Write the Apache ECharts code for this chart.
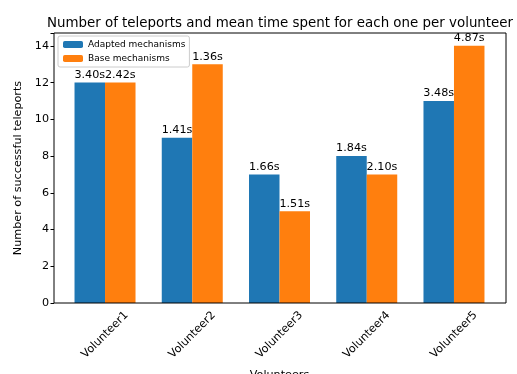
<!DOCTYPE html>
<html>
<head>
<meta charset="utf-8">
<script src="https://cdn.jsdelivr.net/npm/echarts@6/dist/echarts.min.js"></script>
<style>
  html, body { margin: 0; padding: 0; background: #fff; }
  #chart { width: 517px; height: 374px; }
</style>
</head>
<body>
<div id="chart"></div>
<script>
// data
const volunteers = ['Volunteer1', 'Volunteer2', 'Volunteer3', 'Volunteer4', 'Volunteer5']
const adaptedCounts = [12, 9, 7, 8, 11]
const baseCounts = [12, 13, 5, 7, 14]
const adaptedTimes = ['3.40s', '1.41s', '1.66s', '1.84s', '3.48s']
const baseTimes = ['2.42s', '1.36s', '1.51s', '2.10s', '4.87s']
const yTicks = [0, 2, 4, 6, 8, 10, 12, 14]

const font = 'DejaVu Sans'
const chart = echarts.init(document.getElementById('chart'))

function barSeries(name, values, times, color) {
  return {
    name: name,
    type: 'bar',
    data: values,
    barWidth: 30.5,
    barGap: '0%',
    itemStyle: { color: color },
    label: {
      show: true,
      position: 'top',
      distance: 2,
      color: '#000',
      fontFamily: font,
      fontSize: 11.2,
      formatter: p => times[p.dataIndex]
    }
  }
}

const option = {
  animation: false,
  backgroundColor: '#fff',
  title: {
    text: 'Number of teleports and mean time spent for each one per volunteer',
    left: 275,
    textAlign: 'center',
    top: 12,
    textStyle: { fontFamily: font, fontSize: 13.4, fontWeight: 'normal', color: '#000' }
  },
  legend: {
    left: 58,
    top: 36,
    orient: 'vertical',
    itemWidth: 20,
    itemHeight: 7,
    itemGap: 5,
    padding: [4, 4, 4, 5],
    borderColor: '#ccc',
    borderWidth: 1,
    borderRadius: 2,
    backgroundColor: 'rgba(255,255,255,0.8)',
    textStyle: { fontFamily: font, fontSize: 9, color: '#000' },
    data: ['Adapted mechanisms', 'Base mechanisms']
  },
  grid: { left: 61.4, right: 19.4, top: 33, bottom: 71, outerBoundsMode: 'none' },
  xAxis: {
    type: 'category',
    data: volunteers,
    name: 'Volunteers',
    nameLocation: 'middle',
    nameGap: 67,
    nameTextStyle: { fontFamily: font, fontSize: 11.2, color: '#000' },
    axisLine: { show: false },
    axisTick: { alignWithLabel: true, length: 3.5, lineStyle: { color: '#000' } },
    axisLabel: {
      rotate: 45,
      align: 'center',
      verticalAlign: 'middle',
      margin: 32,
      fontFamily: font,
      fontSize: 11.2,
      color: '#000'
    }
  },
  yAxis: {
    type: 'value',
    min: 0,
    max: 14.7,
    interval: 2,
    offset: 7.4,
    name: 'Number of successful teleports',
    nameLocation: 'middle',
    nameGap: 30,
    nameTextStyle: { fontFamily: font, fontSize: 11.2, color: '#000' },
    axisLine: { show: false },
    axisTick: { show: true, length: 3.5, lineStyle: { color: '#000' } },
    splitLine: { show: false },
    axisLabel: {
      fontFamily: font,
      fontSize: 11.2,
      color: '#000',
      margin: 5,
      formatter: v => (yTicks.includes(v) ? String(v) : '')
    }
  },
  graphic: [{
    type: 'rect',
    shape: { x: 54, y: 33, width: 452, height: 270 },
    style: { fill: 'none', stroke: '#000', lineWidth: 1 },
    z: 10
  }],
  series: [
    barSeries('Adapted mechanisms', adaptedCounts, adaptedTimes, '#1f77b4'),
    barSeries('Base mechanisms', baseCounts, baseTimes, '#ff7f0e')
  ]
}

chart.setOption(option)
</script>
</body>
</html>
